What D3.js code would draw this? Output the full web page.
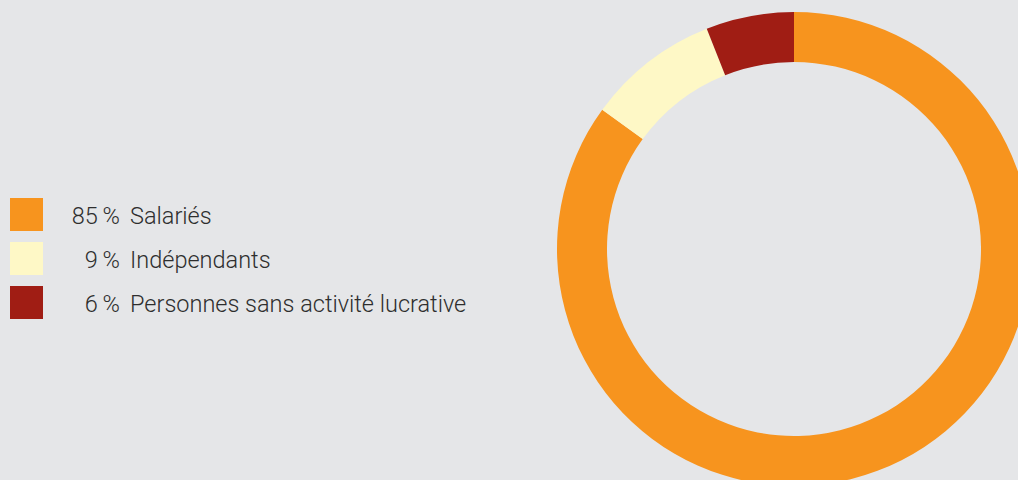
<!DOCTYPE html>
<html>
<head>
<meta charset="utf-8">
<script src="https://cdn.jsdelivr.net/npm/d3@7"></script>
<style>
  html, body { margin: 0; padding: 0; background: #e5e6e8; }
  svg { display: block; }
  text { font-family: Roboto, "Liberation Sans", sans-serif; font-weight: 300; fill: #2e2e2e; }
</style>
</head>
<body>
<svg id="chart" width="1018" height="480"></svg>
<script>
// Répartition des assurés par catégorie
const categories = ["Salariés", "Indépendants", "Personnes sans activité lucrative"];
const shares = [85, 9, 6];
const colors = ["#f7941e", "#fef8c6", "#a01d14"];

const svg = d3.select("#chart");
const W = 1018, H = 480;

svg.append("rect").attr("width", W).attr("height", H).attr("fill", "#e5e6e8");

// Anneau
const cx = 794, cy = 249, outerR = 237, innerR = 187;
const pie = d3.pie().sort(null).value(d => d)(shares);
const arc = d3.arc().innerRadius(innerR).outerRadius(outerR);

svg.append("g")
  .attr("transform", `translate(${cx},${cy})`)
  .selectAll("path")
  .data(pie)
  .join("path")
  .attr("d", arc)
  .attr("fill", (d, i) => colors[i]);

// Légende
const y = d3.scaleBand().domain(categories).range([198, 198 + 44 * 3]).paddingInner(0).paddingOuter(0);
const leg = svg.append("g");
const rows = leg.selectAll("g")
  .data(categories)
  .join("g")
  .attr("transform", d => `translate(0,${y(d)})`);

rows.append("rect")
  .attr("x", 10).attr("y", 0)
  .attr("width", 33).attr("height", 33)
  .attr("fill", (d, i) => colors[i]);

rows.append("text")
  .attr("x", 120).attr("y", 26)
  .attr("text-anchor", "end")
  .attr("font-size", 23.5)
  .text((d, i) => shares[i] + "\u2009%");

rows.append("text")
  .attr("x", 130).attr("y", 26)
  .attr("font-size", 23.5)
  .text(d => d);
</script>
</body>
</html>
